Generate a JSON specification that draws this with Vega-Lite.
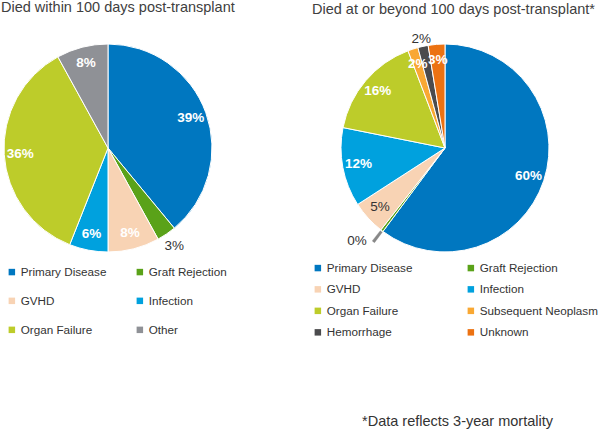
{
  "$schema": "https://vega.github.io/schema/vega-lite/v6.json",
  "padding": {"left": 1, "top": -1, "right": 0, "bottom": 0},
  "bounds": "flush",
  "spacing": 129,
  "config": {
    "view": {"stroke": null},
    "font": "Liberation Sans",
    "title": {"font": "Liberation Sans", "fontSize": 14.5, "fontWeight": "normal", "color": "#404040"}
  },
  "datasets": {
    "early": [
      {"cause": "Primary Disease", "value": 0.39, "rank": 1},
      {"cause": "Graft Rejection", "value": 0.03, "rank": 2},
      {"cause": "GVHD", "value": 0.08, "rank": 3},
      {"cause": "Infection", "value": 0.06, "rank": 4},
      {"cause": "Organ Failure", "value": 0.36, "rank": 5},
      {"cause": "Other", "value": 0.08, "rank": 6}
    ],
    "late": [
      {"cause": "Primary Disease", "value": 0.603, "rank": 1},
      {"cause": "Graft Rejection", "value": 0.004, "rank": 2},
      {"cause": "GVHD", "value": 0.053, "rank": 3},
      {"cause": "Infection", "value": 0.123, "rank": 4},
      {"cause": "Organ Failure", "value": 0.161, "rank": 5},
      {"cause": "Subsequent Neoplasm", "value": 0.016, "rank": 6},
      {"cause": "Hemorrhage", "value": 0.016, "rank": 7},
      {"cause": "Unknown", "value": 0.026, "rank": 8}
    ]
  },
  "title": {
    "text": "*Data reflects 3-year mortality",
    "orient": "bottom",
    "anchor": "end",
    "frame": "bounds",
    "dx": -45,
    "offset": 75,
    "fontSize": 14.5,
    "color": "#333333"
  },
  "hconcat": [
    {
      "width": 208,
      "height": 208,
      "data": {"name": "early"},
      "title": {"text": "Died within 100 days post-transplant", "anchor": "start", "frame": "group", "dx": -3, "offset": 27},
      "encoding": {
        "theta": {"field": "value", "type": "quantitative", "stack": true},
        "order": {"field": "rank", "type": "quantitative"}
      },
      "layer": [
        {
          "mark": {"type": "arc", "stroke": "white", "strokeWidth": 1},
          "encoding": {
            "color": {
              "field": "cause",
              "type": "nominal",
              "sort": null,
              "scale": {
                "domain": ["Primary Disease", "Graft Rejection", "GVHD", "Infection", "Organ Failure", "Other"],
                "range": ["#0077C0", "#5AA219", "#F8D3B4", "#00A1DE", "#BDCC2A", "#8F9196"]
              },
              "legend": {
                "orient": "none",
                "direction": "horizontal",
                "legendX": 2,
                "legendY": 222,
                "columns": 2,
                "title": null,
                "symbolType": "square",
                "symbolSize": 42,
                "symbolStrokeWidth": 0,
                "labelFont": "Liberation Sans",
                "labelFontSize": 11.7,
                "labelColor": "#333333",
                "labelOffset": 3,
                "rowPadding": 16,
                "columnPadding": 27
              }
            }
          }
        },
        {
          "mark": {
            "type": "text",
            "font": "Liberation Sans",
            "fontSize": 13.5,
            "radius": {"expr": "datum.cause === 'Graft Rejection' ? 118 : 88"},
            "fill": {"expr": "datum.cause === 'Graft Rejection' ? '#333333' : '#ffffff'"},
            "fontWeight": {"expr": "datum.cause === 'Graft Rejection' ? 'normal' : 'bold'"}
          },
          "encoding": {
            "detail": {"field": "cause"},
            "text": {"field": "value", "type": "quantitative", "format": ".0%"}
          }
        }
      ]
    },
    {
      "width": 208,
      "height": 208,
      "data": {"name": "late"},
      "title": {"text": "Died at or beyond 100 days post-transplant*", "anchor": "start", "frame": "group", "dx": -29, "offset": 14},
      "encoding": {
        "theta": {"field": "value", "type": "quantitative", "stack": true},
        "order": {"field": "rank", "type": "quantitative"}
      },
      "layer": [
        {
          "mark": {"type": "arc", "stroke": "white", "strokeWidth": 1},
          "encoding": {
            "color": {
              "field": "cause",
              "type": "nominal",
              "sort": null,
              "scale": {
                "domain": ["Primary Disease", "Graft Rejection", "GVHD", "Infection", "Organ Failure", "Subsequent Neoplasm", "Hemorrhage", "Unknown"],
                "range": ["#0077C0", "#5AA219", "#F8D3B4", "#00A1DE", "#BDCC2A", "#F9A833", "#4B4B4D", "#EC7212"]
              },
              "legend": {
                "orient": "none",
                "direction": "horizontal",
                "legendX": -29,
                "legendY": 218,
                "columns": 2,
                "title": null,
                "symbolType": "square",
                "symbolSize": 42,
                "symbolStrokeWidth": 0,
                "labelFont": "Liberation Sans",
                "labelFontSize": 11.7,
                "labelColor": "#333333",
                "labelOffset": 3,
                "rowPadding": 8.5,
                "columnPadding": 52
              }
            }
          }
        },
        {
          "mark": {
            "type": "arc",
            "radius": 105,
            "radius2": {"expr": "datum.cause === 'Graft Rejection' ? 118 : 105"},
            "fill": "#888888",
            "stroke": "#888888",
            "strokeWidth": 0.3
          },
          "encoding": {
            "detail": {"field": "cause"},
            "opacity": {"condition": {"test": "datum.cause === 'Graft Rejection'", "value": 1}, "value": 0}
          }
        },
        {
          "mark": {
            "type": "text",
            "font": "Liberation Sans",
            "fontSize": 13.5,
            "radius": {"expr": "datum.cause === 'Graft Rejection' ? 122 : datum.cause === 'Hemorrhage' ? 112 : 88"},
            "dx": {"expr": "datum.cause === 'Graft Rejection' ? -14 : 0"},
            "dy": {"expr": "datum.cause === 'Graft Rejection' ? -4 : 0"},
            "fill": {"expr": "indexof(['Graft Rejection','Hemorrhage','GVHD'], datum.cause) >= 0 ? '#333333' : '#ffffff'"},
            "fontWeight": {"expr": "indexof(['Graft Rejection','Hemorrhage','GVHD'], datum.cause) >= 0 ? 'normal' : 'bold'"}
          },
          "encoding": {
            "detail": {"field": "cause"},
            "text": {"field": "value", "type": "quantitative", "format": ".0%"}
          }
        }
      ]
    }
  ],
  "resolve": {"scale": {"color": "independent", "theta": "independent"}, "legend": {"color": "independent"}}
}
